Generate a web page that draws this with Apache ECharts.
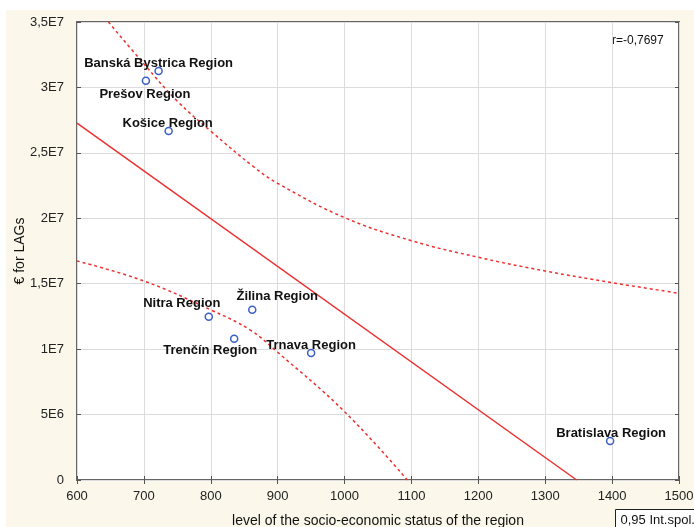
<!DOCTYPE html>
<html>
<head>
<meta charset="utf-8">
<script src="https://cdn.jsdelivr.net/npm/echarts@6.0.0/dist/echarts.min.js"></script>
<style>
  html, body { margin: 0; padding: 0; background: #fff; }
  #chart { width: 694px; height: 527px; }
</style>
</head>
<body>
<div id="chart"></div>
<script>
// regions and their values
const regionNames = ['Banská Bystrica Region', 'Prešov Region', 'Košice Region', 'Nitra Region',
  'Žilina Region', 'Trenčín Region', 'Trnava Region', 'Bratislava Region']
const socioLevel = [722, 703, 737, 797, 862, 835, 950, 1397]
const lagFunds = [31260000, 30510000, 26670000, 12480000, 13010000, 10800000, 9700000, 2980000]

// fitted line and 0,95 confidence band
const fitX = [600, 1347]
const fitY = [27280000, 0]
const upperX = [647, 700, 750, 800, 864, 900, 1000, 1100, 1200, 1300, 1400, 1500]
const upperY = [35000000, 31800000, 28950000, 26660000, 23940000, 22670000, 20050000, 18290000, 17020000, 15970000, 15080000, 14270000]
const lowerX = [600, 700, 800, 859, 900, 1000, 1094]
const lowerY = [16740000, 15210000, 13000000, 11460000, 9760000, 5220000, 0]

// axis ticks
const xTicks = ['600', '700', '800', '900', '1000', '1100', '1200', '1300', '1400', '1500']
const yTicks = ['0', '5E6', '1E7', '1,5E7', '2E7', '2,5E7', '3E7', '3,5E7']

const labelOffsets = [[0, -8], [-1, 14], [-1, -8], [-27, -13], [25, -13], [-24, 12], [0, -8], [1, -8]]

const font = 'Arial, "Liberation Sans", sans-serif'
const zip = (xs, ys) => xs.map((x, i) => [x, ys[i]])

const points = socioLevel.map((x, i) => ({
  name: regionNames[i],
  value: [x, lagFunds[i]],
  label: { offset: labelOffsets[i] }
}))

const axisCommon = {
  axisLine: { show: false },
  axisTick: { show: true, inside: true, length: 4, lineStyle: { color: '#555', width: 1 } },
  splitLine: { show: false }
}

const option = {
  backgroundColor: '#fff',
  animation: false,
  graphic: [
    { type: 'rect', z: -10, shape: { x: 6, y: 10, width: 700, height: 530 }, style: { fill: '#fbf7ea' } },
    { type: 'text', left: 612, top: 35, style: { text: 'r=-0,7697', font: '12px ' + font, fill: '#111' } },
    {
      type: 'group', left: 615, top: 509,
      children: [
        { type: 'rect', shape: { x: 0, y: 0, width: 90, height: 24 }, style: { fill: '#fff', stroke: '#222', lineWidth: 1 } },
        { type: 'text', x: 5, y: 4, style: { text: '0,95 Int.spol.', font: '13px ' + font, fill: '#111' } }
      ]
    }
  ],
  grid: {
    left: 77, top: 22, right: 15, bottom: 47,
    containLabel: false, outerBoundsMode: 'none',
    show: true, backgroundColor: '#fff', borderColor: '#666', borderWidth: 2
  },
  xAxis: [
    {
      type: 'value', min: 600, max: 1500, interval: 100,
      name: 'level of the socio-economic status of the region',
      nameLocation: 'middle', nameGap: 34, nameMoveOverlap: false,
      nameTextStyle: { fontFamily: font, fontSize: 14, color: '#111' },
      axisLine: { show: false },
      axisTick: { show: true, inside: true, length: 4, lineStyle: { color: '#555' } },
      axisLabel: {
        margin: 10, fontFamily: font, fontSize: 13, color: '#222',
        formatter: (v) => xTicks[Math.round((v - 600) / 100)]
      },
      splitLine: { show: true, lineStyle: { color: '#dcdcdc', width: 1 } }
    },
    Object.assign({ type: 'value', position: 'top', min: 600, max: 1500, interval: 100, axisLabel: { show: false } }, axisCommon)
  ],
  yAxis: [
    {
      type: 'value', min: 0, max: 35000000, interval: 5000000,
      name: '€ for LAGs',
      nameLocation: 'middle', nameGap: 50, nameMoveOverlap: false,
      nameTextStyle: { fontFamily: font, fontSize: 14, color: '#111' },
      axisLine: { show: false },
      axisTick: { show: true, inside: true, length: 4, lineStyle: { color: '#555' } },
      axisLabel: {
        margin: 13, fontFamily: font, fontSize: 13, color: '#222',
        formatter: (v) => yTicks[Math.round(v / 5000000)]
      },
      splitLine: { show: true, lineStyle: { color: '#dcdcdc', width: 1 } }
    },
    Object.assign({ type: 'value', position: 'right', min: 0, max: 35000000, interval: 5000000, axisLabel: { show: false } }, axisCommon)
  ],
  series: [
    {
      type: 'line', data: zip(fitX, fitY), symbol: 'none',
      lineStyle: { color: '#ee3030', width: 1.5 }, z: 3
    },
    {
      type: 'line', data: zip(upperX, upperY), symbol: 'none', smooth: 0.4,
      lineStyle: { color: '#ee3030', width: 1.5, type: [3, 3] }, z: 3
    },
    {
      type: 'line', data: zip(lowerX, lowerY), symbol: 'none', smooth: 0.4,
      lineStyle: { color: '#ee3030', width: 1.5, type: [3, 3] }, z: 3
    },
    {
      type: 'scatter', data: points, symbol: 'circle', symbolSize: 7, z: 5,
      itemStyle: { color: '#fff', borderColor: '#3a5fc8', borderWidth: 1.5, opacity: 1 },
      label: {
        show: true, position: 'inside', formatter: '{b}',
        fontFamily: font, fontSize: 13, fontWeight: 'bold', color: '#111',
        textBorderWidth: 0, textBorderColor: 'transparent'
      }
    }
  ]
}

const chart = echarts.init(document.getElementById('chart'))
chart.setOption(option)
</script>
</body>
</html>
